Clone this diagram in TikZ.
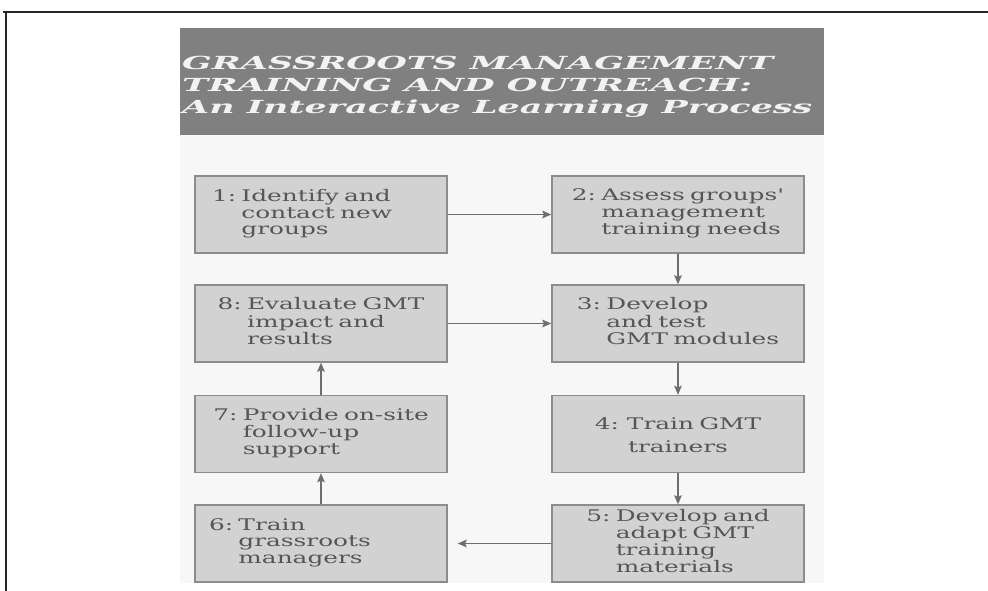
\documentclass[tikz,border=0pt]{standalone}
\usepackage{fontspec}
\usepackage{graphicx}
\usetikzlibrary{arrows.meta}
\newfontfamily\bodyfont[FakeStretch=1.55]{DejaVu Serif}
\newfontfamily\titlefont{DejaVu Serif}
\definecolor{framecol}{HTML}{262626}
\definecolor{titlebg}{HTML}{808080}
\definecolor{titletext}{HTML}{F2F2F2}
\definecolor{panelbg}{HTML}{F7F7F7}
\definecolor{boxfill}{HTML}{D2D2D2}
\definecolor{boxline}{HTML}{8C8C8C}
\definecolor{bodytext}{HTML}{555555}
\definecolor{arrcol}{HTML}{6E6E6E}
\tikzset{
  stepbox/.style={draw=boxline, fill=boxfill, line width=1.3pt,
    minimum width=252pt, minimum height=77pt, inner xsep=17pt, inner ysep=0pt,
    text width=218pt, text=bodytext,
    font=\bodyfont\fontsize{16}{16.7}\selectfont},
  leftbox/.style={stepbox, align=left},
  midbox/.style={stepbox, align=center},
  arr/.style={draw=arrcol, line width=1.5pt, -{Stealth[length=9pt,width=7.5pt,inset=1.5pt]}},
  ttl/.style={anchor=base west, inner sep=0pt, text=titletext}
}
\newcommand{\ttlline}[2]{\resizebox{#1}{\height}{\titlefont\bfseries\itshape\fontsize{18}{20}\selectfont #2}}
\begin{document}
\begin{tikzpicture}[x=1pt, y=-1pt]
\useasboundingbox (0,0) rectangle (988,591);
\fill[white] (0,0) rectangle (988,591);
% frame
\draw[framecol, line width=2.6pt] (3,12) -- (988,12);
\draw[framecol, line width=2.6pt] (6,10.7) -- (6,591);
% panel and title band
\fill[panelbg] (180,135) rectangle (824,583);
\fill[titlebg] (180,28) rectangle (824,135);
\node[ttl] (t1) at (182,70) {\ttlline{591pt}{GRASSROOTS MANAGEMENT}};
\node[ttl] (t2) at (182,92) {\ttlline{570pt}{TRAINING AND OUTREACH:}};
\node[ttl] (t3) at (182,114) {\ttlline{630pt}{An Interactive Learning Process}};
% steps
\node[leftbox] (n1) at (321,214.5) {\begin{tabular}{@{}l@{\ }l@{}}1:&Identify and\\&contact new\\&groups\end{tabular}};
\node[midbox] (n2) at (678,214.5) {\begin{tabular}{@{}l@{\ }l@{}}2:&Assess groups'\\&management\\&training needs\end{tabular}};
\node[midbox] (n8) at (321,323.5) {\begin{tabular}{@{}l@{\ }l@{}}8:&Evaluate GMT\\&impact and\\&results\end{tabular}};
\node[midbox] (n3) at (678,323.5) {\begin{tabular}{@{}l@{\ }l@{}}3:&Develop\\&and test\\&GMT modules\end{tabular}};
\node[midbox] (n7) at (321,434) {\begin{tabular}{@{}l@{\ }l@{}}7:&Provide on-site\\&follow-up\\&support\end{tabular}};
\node[midbox] (n4) at (678,434) {\begin{tabular}{@{}c@{}}\rule{0pt}{19pt}4: Train GMT\\[6.3pt]trainers\end{tabular}};
\node[leftbox, inner xsep=14pt, text width=224pt] (n6) at (321,543.5) {\begin{tabular}{@{}l@{\ }l@{}}6:&Train\\&grassroots\\&managers\end{tabular}};
\node[midbox] (n5) at (678,543.5) {\begin{tabular}{@{}l@{\ }l@{}}5:&Develop and\\&adapt GMT\\&training\\&materials\end{tabular}};
% connectors
\draw[arr] (n1) -- (n2);
\draw[arr] (n2) -- (n3);
\draw[arr] (n8) -- (n3);
\draw[arr] (n3) -- (n4);
\draw[arr] (n4) -- (n5);
\draw[arr, shorten >=10pt] (n5) -- (n6);
\draw[arr] (n6) -- (n7);
\draw[arr] (n7) -- (n8);
\end{tikzpicture}
\end{document}
